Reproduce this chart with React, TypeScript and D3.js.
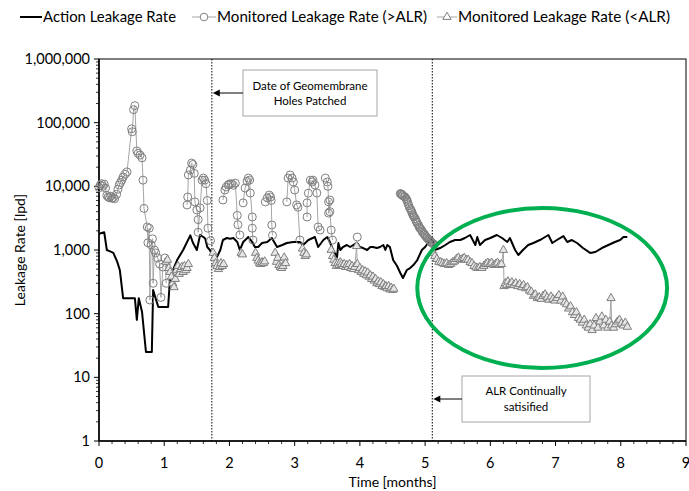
import React from 'react';
import * as d3 from 'd3';

const xTicks = [0, 1, 2, 3, 4, 5, 6, 7, 8, 9];
const yTicks = [1, 10, 100, 1000, 10000, 100000, 1000000];

const seriesNames = ['Action Leakage Rate', 'Monitored Leakage Rate (>ALR)', 'Monitored Leakage Rate (<ALR)'];

const alrMonths = [0.00,0.08,0.12,0.17,0.22,0.28,0.32,0.37,0.55,0.58,0.61,0.66,0.72,0.81,0.83,0.89,0.91,1.06,1.09,1.20,1.29,1.40,1.44,1.50,1.55,1.60,1.63,1.66,1.70,1.75,1.81,1.86,1.90,1.96,2.01,2.06,2.12,2.16,2.21,2.29,2.35,2.39,2.44,2.50,2.58,2.65,2.73,2.81,2.88,2.98,3.08,3.13,3.21,3.31,3.36,3.44,3.50,3.54,3.59,3.65,3.67,3.70,3.74,3.80,3.85,3.90,3.96,4.00,4.05,4.11,4.16,4.20,4.26,4.31,4.36,4.39,4.42,4.46,4.51,4.57,4.62,4.66,4.72,4.77,4.82,4.88,4.95,5.00,5.08,5.11,5.15,5.23,5.31,5.38,5.46,5.54,5.61,5.69,5.77,5.80,5.84,5.92,6.00,6.10,6.18,6.26,6.30,6.38,6.43,6.50,6.58,6.66,6.76,6.84,6.89,6.95,7.02,7.12,7.18,7.25,7.33,7.42,7.53,7.61,7.71,7.81,7.91,7.99,8.04,8.10];
const alrValues = [1800,1900,1000,950,900,650,480,175,175,80,175,106,25,25,235,147,127,127,380,700,1000,1700,1300,1000,1720,1600,1500,1114,1000,780,780,1000,1435,1543,1500,1543,1335,1000,1335,1600,1335,1114,1114,1288,1335,1543,1114,1198,1288,1335,1335,1198,1435,1600,1114,1435,1600,1335,1000,776,1288,1000,1114,1198,1114,1198,1288,1114,1074,1000,1114,1114,1074,1114,1198,1000,1198,1114,696,560,435,363,485,521,581,696,1000,1114,1435,1543,1000,1074,1198,1335,1435,1435,1543,1720,1198,1600,1198,1435,1543,1720,1543,1335,1543,1000,834,1000,1198,1288,1435,1600,1720,1288,1435,1650,1335,1435,1288,1074,900,930,1074,1198,1335,1435,1600,1600];

// Monitored > ALR (null = gap)
const aboveMonths = [
  0.00,0.02,0.04,0.06,0.08,0.10,0.12,0.14,0.16,0.18,0.20,0.22,0.24,0.27,0.29,0.31,0.33,0.35,0.37,0.40,0.43,0.50,0.51,0.53,0.55,0.58,0.60,0.63,0.66,0.675,0.69,0.74,0.75,0.77,0.78,0.80,0.82,0.83,0.85,0.87,0.90,0.93,0.95,0.98,1.01,1.03,null,
  1.35,1.36,1.37,1.40,1.42,1.44,1.46,1.47,1.50,1.52,1.52,1.55,1.58,1.60,1.62,1.64,1.66,1.67,1.71,null,
  1.90,1.93,1.95,1.98,2.00,2.03,2.06,2.09,2.12,2.13,2.16,null,
  2.21,2.24,2.27,2.29,2.31,2.32,2.35,2.35,2.36,null,
  2.55,2.58,2.61,2.63,2.64,2.65,2.66,null,
  2.88,2.90,2.93,2.96,2.98,3.00,3.03,3.05,3.08,null,
  3.19,3.19,3.21,3.24,3.27,3.28,3.31,3.34,3.36,3.39,null,
  3.47,3.50,3.51,3.52,3.52,3.54,3.54,3.56,3.58,null,
  3.96,null,
  4.62,4.63,4.64,4.65,4.66,4.68,4.69,4.71,4.72,4.73,4.74,4.75,4.76,4.78,4.79,4.80,4.81,4.82,4.83,4.85,4.86,4.87,4.88,4.90,4.91,4.92,4.94,4.95,4.96,4.98,4.99,5.00,5.02,5.03,5.05,5.06,5.08,5.09,5.10,5.12,5.14
];
const aboveValues = [
  9500,10500,11000,10000,10800,9400,7200,6800,6600,7000,6500,6700,6400,7500,9000,10500,11500,12500,14000,15500,16800,80000,72000,160000,185000,36000,33000,31000,28000,12500,4500,2300,1300,2200,164,1200,1500,300,1000,900,750,600,180,540,750,300,null,
  5100,6800,15100,18000,23200,22000,16000,5700,4250,3000,1900,4570,12500,13500,12500,11000,6000,2200,1400,null,
  6100,8750,9750,10500,10900,11000,10400,11200,3500,2500,1720,null,
  5500,9400,12000,13500,12560,7850,3300,2200,1435,null,
  5700,6600,7300,6800,6000,2470,1700,null,
  5700,13500,15100,13500,11700,8750,5100,4700,1435,null,
  3300,5500,7800,12500,11700,12500,10500,7850,2300,2060,null,
  13500,11700,10000,5700,3800,6100,4000,2060,1435,null,
  1600,null,
  7700,7600,7500,7300,7100,6900,6800,6400,6100,5700,5300,5000,4600,4300,4100,3850,3600,3450,3300,3100,2900,2750,2600,2450,2300,2200,2100,2000,1900,1820,1750,1680,1600,1540,1480,1430,1380,1340,1300,1260,1220
];

// Monitored < ALR (null = gap)
const belowMonths = [
  1.03,1.05,1.07,1.09,1.11,1.13,1.15,1.17,1.19,1.21,1.23,1.25,1.27,1.29,1.31,1.33,1.35,1.37,null,
  1.75,1.77,1.79,1.81,1.83,1.85,1.87,1.89,1.91,null,
  2.18,2.20,null,
  2.40,2.42,2.44,2.46,2.48,2.50,2.52,2.54,null,
  2.70,2.72,2.74,2.76,2.78,2.80,2.82,2.84,2.86,null,
  3.12,3.14,3.16,3.18,null,
  3.56,3.58,3.60,3.62,3.64,3.66,3.68,3.70,3.72,3.74,3.76,3.78,3.80,3.82,3.84,3.86,3.88,3.90,3.92,3.95,3.96,3.98,4.00,4.02,4.04,4.06,4.08,4.10,4.12,4.14,4.16,4.18,4.20,4.22,4.24,4.26,4.28,4.30,4.32,4.34,4.36,4.38,4.40,4.42,4.44,4.46,4.48,4.50,4.52,null,
  5.13,5.15,5.18,5.21,5.24,5.27,5.30,5.33,5.36,5.39,5.42,5.45,5.48,5.51,5.54,5.57,5.60,5.63,5.66,5.69,5.72,5.75,5.78,5.81,5.84,5.87,5.90,5.93,5.96,5.99,6.02,6.05,6.08,6.11,6.14,6.17,6.20,6.21,6.23,6.25,6.27,6.30,6.33,6.36,6.39,6.42,6.45,6.48,6.51,6.54,6.57,6.60,6.63,6.66,6.69,6.72,6.75,6.78,6.81,6.84,6.87,6.90,6.93,6.96,6.99,7.02,7.05,7.08,7.11,7.14,7.17,7.20,7.23,7.26,7.29,7.32,7.35,7.38,7.41,7.44,7.47,7.50,7.53,7.56,7.59,7.62,7.65,7.68,7.71,7.74,7.77,7.80,7.83,7.85,7.86,7.89,7.92,7.95,7.98,8.01,8.04,8.07,8.10
];
const belowValues = [
  650,700,520,450,380,300,260,350,480,560,420,500,540,450,560,480,520,600,null,
  900,750,620,560,500,540,620,560,600,null,
  900,850,null,
  900,750,680,620,600,640,620,660,null,
  900,650,750,580,540,520,560,760,620,null,
  1050,900,800,850,null,
  1000,800,700,620,560,620,580,640,600,560,600,540,580,540,600,520,560,500,540,1150,600,480,520,450,480,420,460,400,440,380,400,350,380,330,350,300,320,290,310,270,290,260,270,250,270,240,255,235,245,null,
  900,800,720,650,640,620,600,620,580,600,640,660,720,760,700,720,750,700,700,640,620,560,530,520,540,520,560,600,630,600,630,580,600,630,580,600,1000,270,300,280,320,290,310,280,300,270,290,260,280,250,260,230,220,190,200,175,180,170,190,200,180,165,185,170,160,175,195,160,185,150,140,120,130,105,95,105,85,80,72,80,65,60,68,55,65,85,60,75,90,65,80,60,75,175,65,60,68,75,80,70,65,72,62
];

const patchMonth = 1.73;
const satisfiedMonth = 5.11;
// ellipse bounds in data space
const ellipseMonths = [4.88, 8.71];
const ellipseValues = [14, 4570];

const W = 689, H = 491;
const L = 99, R = 686, T = 59, B = 441;
const FONT = 'Lato, Carlito, Calibri, sans-serif';

export default function App() {
  const x = d3.scaleLinear().domain([0, 9]).range([L, R]);
  const y = d3.scaleLog().domain([1, 1e6]).range([B, T]);

  const mkPts = (ms: (number | null)[], vs: (number | null)[]) =>
    ms.map((m, i) => ({ m, v: vs[i] }));
  const alr = mkPts(alrMonths, alrValues);
  const above = mkPts(aboveMonths, aboveValues);
  const below = mkPts(belowMonths, belowValues);

  const line = d3.line<{ m: number | null; v: number | null }>()
    .defined(d => d.m != null && d.v != null)
    .x(d => x(d.m as number))
    .y(d => y(d.v as number));

  const tri = d3.symbol().type(d3.symbolTriangle).size(30)() as string;

  const minorY: number[] = [];
  for (let d = 0; d < 6; d++) for (let k = 2; k < 10; k++) minorY.push(k * Math.pow(10, d));
  const minorX: number[] = [];
  for (let i = 0; i <= 45; i++) if (i % 5 !== 0) minorX.push(i / 5);

  const ex0 = x(ellipseMonths[0]), ex1 = x(ellipseMonths[1]);
  const ey0 = y(ellipseValues[1]), ey1 = y(ellipseValues[0]);

  const grayLine = '#a6a6a6';
  const grayMark = '#7f7f7f';

  return (
    <svg width={W} height={H} style={{ position: 'absolute', left: 0, top: 0, background: '#fff' }} fontFamily={FONT}>
      <rect x={0} y={0} width={W} height={H} fill="#fff" />
      {/* legend */}
      <g>
        <line x1={20} x2={42} y1={17} y2={17} stroke="#000" strokeWidth={2} />
        <text x={43} y={22} fontSize={15} textLength={133} lengthAdjust="spacingAndGlyphs" fill="#000">{seriesNames[0]}</text>
        <line x1={192} x2={216} y1={17} y2={17} stroke={grayLine} strokeWidth={1} />
        <circle cx={204} cy={17} r={3.8} fill="#fff" stroke={grayMark} strokeWidth={1} />
        <text x={217} y={22} fontSize={15} textLength={210} lengthAdjust="spacingAndGlyphs" fill="#000">{seriesNames[1]}</text>
        <line x1={437} x2={457} y1={17} y2={17} stroke={grayLine} strokeWidth={1} />
        <path d={tri} transform="translate(447,17)" fill="#fff" stroke={grayMark} strokeWidth={1} />
        <text x={458} y={22} fontSize={15} textLength={212} lengthAdjust="spacingAndGlyphs" fill="#000">{seriesNames[2]}</text>
      </g>

      {/* frame */}
      <rect x={L} y={T} width={R - L} height={B - T} fill="none" stroke="#000" strokeWidth={1} />

      {/* y axis ticks */}
      {minorY.map(v => (
        <line key={'my' + v} x1={L - 3} x2={L} y1={y(v)} y2={y(v)} stroke="#000" strokeWidth={0.8} />
      ))}
      {yTicks.map(v => (
        <g key={'y' + v}>
          <line x1={L - 5} x2={L} y1={y(v)} y2={y(v)} stroke="#000" strokeWidth={1} />
          <text x={90} y={y(v) + 5} textAnchor="end" fontSize={14.5} fill="#000">{d3.format(',')(v)}</text>
        </g>
      ))}
      {/* x axis ticks */}
      {minorX.map(v => (
        <line key={'mx' + v} x1={x(v)} x2={x(v)} y1={B} y2={B + 3} stroke="#000" strokeWidth={0.8} />
      ))}
      {xTicks.map(v => (
        <g key={'x' + v}>
          <line x1={x(v)} x2={x(v)} y1={B} y2={B + 5} stroke="#000" strokeWidth={1} />
          <text x={x(v)} y={468} textAnchor="middle" fontSize={14.5} fill="#000">{v}</text>
        </g>
      ))}
      <line x1={L} x2={L} y1={T} y2={B} stroke="#000" strokeWidth={1.5} />
      <line x1={L} x2={R} y1={B} y2={B} stroke="#000" strokeWidth={1.5} />

      {/* axis titles */}
      <text x={392.5} y={487} textAnchor="middle" fontSize={14} fill="#000">Time [months]</text>
      <text transform="translate(25,250) rotate(-90)" textAnchor="middle" fontSize={14} fill="#000">Leakage Rate [lpd]</text>

      {/* dotted reference lines */}
      <line x1={x(patchMonth)} x2={x(patchMonth)} y1={T} y2={B} stroke="#000" strokeWidth={1} strokeDasharray="1.5,1.5" />
      <line x1={x(satisfiedMonth)} x2={x(satisfiedMonth)} y1={T} y2={B} stroke="#000" strokeWidth={1} strokeDasharray="1.5,1.5" />

      {/* series */}
      <path d={line(alr) || ''} fill="none" stroke="#000" strokeWidth={2} strokeLinejoin="round" />
      <path d={line(above) || ''} fill="none" stroke={grayLine} strokeWidth={1} />
      {above.filter(d => d.m != null && d.v != null).map((d, i) => (
        <circle key={'c' + i} cx={x(d.m as number)} cy={y(d.v as number)} r={4} fill="none" stroke={grayMark} strokeWidth={1} />
      ))}
      <path d={line(below) || ''} fill="none" stroke={grayLine} strokeWidth={1} />
      {below.filter(d => d.m != null && d.v != null).map((d, i) => (
        <path key={'t' + i} d={tri} transform={`translate(${x(d.m as number)},${y(d.v as number)})`} fill="#e6e6e6" stroke={grayMark} strokeWidth={1} />
      ))}

      {/* annotations */}
      <rect x={243} y={70} width={134} height={46} fill="#fff" stroke="#a6a6a6" strokeWidth={1} />
      <text x={310} y={90} textAnchor="middle" fontSize={11.5} fill="#000">Date of Geomembrane</text>
      <text x={310} y={105} textAnchor="middle" fontSize={11.5} fill="#000">Holes Patched</text>
      <line x1={243} x2={x(patchMonth) + 6} y1={93} y2={93} stroke="#000" strokeWidth={1} />
      <path d={`M${x(patchMonth) + 1},93 L${x(patchMonth) + 8},89.5 L${x(patchMonth) + 8},96.5 Z`} fill="#000" />

      <rect x={462} y={376} width={128} height={46} fill="#fff" stroke="#a6a6a6" strokeWidth={1} />
      <text x={526} y={395} textAnchor="middle" fontSize={11.5} fill="#000">ALR Continually</text>
      <text x={526} y={411} textAnchor="middle" fontSize={11.5} fill="#000">satisified</text>
      <line x1={462} x2={x(satisfiedMonth) + 6} y1={399} y2={399} stroke="#000" strokeWidth={1} />
      <path d={`M${x(satisfiedMonth) + 1},399 L${x(satisfiedMonth) + 8},395.5 L${x(satisfiedMonth) + 8},402.5 Z`} fill="#000" />

      {/* green ellipse */}
      <ellipse cx={(ex0 + ex1) / 2} cy={(ey0 + ey1) / 2} rx={(ex1 - ex0) / 2} ry={(ey1 - ey0) / 2} fill="none" stroke="#00B050" strokeWidth={4} />
    </svg>
  );
}
